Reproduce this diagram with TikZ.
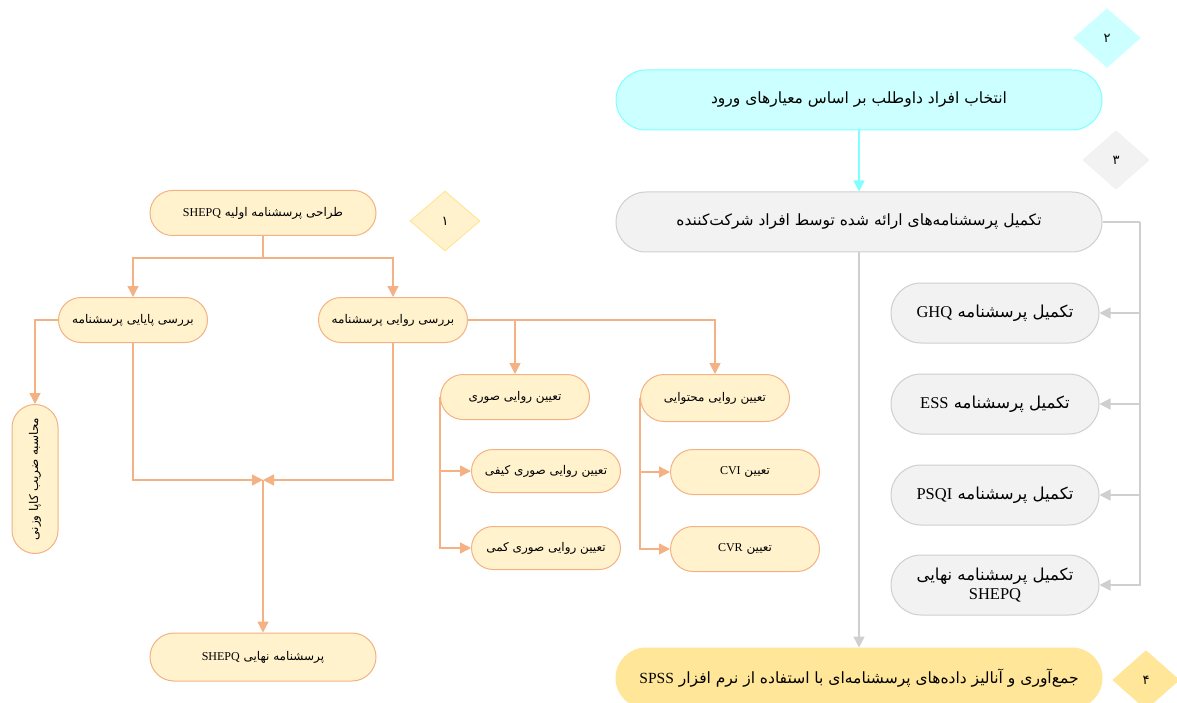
\documentclass[tikz,border=0pt]{standalone}
\usepackage{fontspec}
\setmainfont{Liberation Serif}
\newfontfamily\fa[Script=Arabic]{DejaVu Sans}
\TeXXeTstate=1
\usetikzlibrary{arrows.meta,shapes.misc,shapes.geometric}

\definecolor{orangeline}{HTML}{F4B183}
\definecolor{orangefill}{HTML}{FFF2CC}
\definecolor{grayline}{HTML}{D0CECE}
\definecolor{grayfill}{HTML}{F2F2F2}
\definecolor{cyanline}{HTML}{7FFFFF}
\definecolor{cyanfill}{HTML}{CCFFFF}
\definecolor{goldfill}{HTML}{FFE699}

\newcommand{\lat}[1]{{\rmfamily\beginL #1\endL}}
\newcommand{\rtl}[1]{\beginR #1\endR}

\begin{document}
\begin{tikzpicture}[x=1pt,y=-1pt,line width=1.4pt,
obox/.style={rounded rectangle,draw=orangeline,fill=orangefill,line width=1pt,minimum width=153pt,minimum height=45pt,inner sep=2pt,font=\fa\fontsize{12}{14}\selectfont},
gbox/.style={rounded rectangle,draw=grayline,fill=grayfill,line width=1pt,minimum width=212pt,minimum height=60pt,inner sep=2pt,font=\fa\fontsize{16.5}{19}\selectfont},
wide/.style={minimum width=490pt,minimum height=60pt,font=\fa\fontsize{15.5}{18}\selectfont},
stepmark/.style={diamond,inner sep=0pt,minimum width=68pt,minimum height=60pt,font=\fa\fontsize{13}{15}\selectfont},
oline/.style={draw=orangeline,-{Triangle[length=11pt,width=11pt]}},
gline/.style={draw=grayline,-{Triangle[length=11pt,width=11pt]}},
cline/.style={draw=cyanline,-{Triangle[length=11pt,width=11pt]}}]

\useasboundingbox (0,0) rectangle (1177,703);
\clip (0,0) rectangle (1177,703);

% left part: design of the questionnaire
\draw (263,213) node[obox,minimum width=230pt] (design) {\rtl{طراحی پرسشنامه اولیه \lat{SHEPQ}}};
\draw (445,221) node[stepmark,fill=orangefill,draw=goldfill,line width=1pt,minimum width=70pt] (s1) {۱};
\draw (133,320) node[obox] (rel) {\rtl{بررسی پایایی پرسشنامه}};
\draw (393,320) node[obox] (val) {\rtl{بررسی روایی پرسشنامه}};
\draw (35,479) node[obox,rotate=90,minimum height=46pt] (kappa) {\rtl{محاسبه ضریب کاپا وزنی}};
\draw (515,397) node[obox] (face) {\rtl{تعیین روایی صوری}};
\draw (715,398) node[obox,minimum height=47pt] (content) {\rtl{تعیین روایی محتوایی}};
\draw (546,471) node[obox,minimum height=43pt] (qual) {\rtl{تعیین روایی صوری  کیفی}};
\draw (546,548) node[obox,minimum height=43pt] (quant) {\rtl{تعیین روایی صوری کمی}};
\draw (745,472) node[obox] (cvi) {\rtl{تعیین \lat{CVI}}};
\draw (745,549) node[obox] (cvr) {\rtl{تعیین \lat{CVR}}};
\draw (263,657) node[obox,minimum width=230pt,minimum height=48pt] (final) {\rtl{پرسشنامه نهایی \lat{SHEPQ}}};

\coordinate (split) at (263,258);
\coordinate (merge) at (263,480);

\draw[draw=orangeline] (design.south) -- (split);
\draw[oline] (split) -| (rel.north);
\draw[oline] (split) -| (val.north);
\draw[oline] (rel.west) -| (kappa.east);
\draw[oline] (rel.south) |- (merge);
\draw[oline] (val.south) |- (merge);
\draw[oline] (merge) -- (final.north);
\draw[oline] (val.east) -| (face.north);
\draw[oline] (val.east) -| (content.north);
\draw[oline] (face.west) |- (qual.west);
\draw[oline] (face.west) |- (quant.west);
\draw[oline] (content.west) |- (cvi.west);
\draw[oline] (content.west) |- (cvr.west);

% right part: data collection
\draw (1107,38) node[stepmark,fill=cyanfill] (s2) {۲};
\draw (859,100) node[gbox,wide,fill=cyanfill,draw=cyanline] (select) {\rtl{انتخاب افراد داوطلب بر اساس معیارهای ورود}};
\draw (1116,160) node[stepmark,fill=grayfill] (s3) {۳};
\draw (859,222) node[gbox,wide] (fill) {\rtl{تکمیل پرسشنامه‌های ارائه شده توسط افراد شرکت‌کننده}};
\draw (995,313) node[gbox] (ghq) {\rtl{تکمیل پرسشنامه \lat{GHQ}}};
\draw (995,404) node[gbox] (ess) {\rtl{تکمیل پرسشنامه \lat{ESS}}};
\draw (995,495) node[gbox] (psqi) {\rtl{تکمیل پرسشنامه \lat{PSQI}}};
\draw (995,585) node[gbox,align=center] (shepq) {\rtl{تکمیل پرسشنامه نهایی}\\\lat{SHEPQ}};
\draw (859,678) node[gbox,wide,fill=goldfill,draw=goldfill] (spss) {\rtl{جمع‌آوری و آنالیز داده‌های پرسشنامه‌ای با استفاده از نرم افزار \lat{SPSS}}};
\draw (1146,680) node[stepmark,fill=goldfill] (s4) {۴};

\coordinate (bus) at (1140,222);

\draw[cline] (select.south) -- (fill.north);
\draw[draw=grayline] (fill.east) -- (bus);
\foreach \q in {ghq,ess,psqi,shepq}
  \draw[gline] (bus) |- (\q.east);
\draw[gline] (fill.south) -- (spss.north);
\end{tikzpicture}
\end{document}
